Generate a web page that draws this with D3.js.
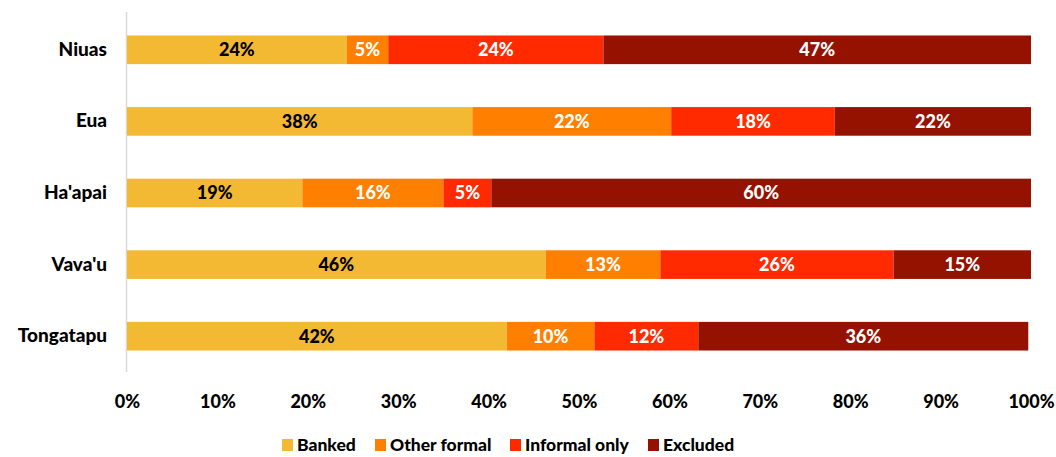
<!DOCTYPE html>
<html>
<head>
<meta charset="utf-8">
<script src="https://cdn.jsdelivr.net/npm/d3@7"></script>
<style>
  html, body { margin: 0; padding: 0; background: #fff; }
  svg { display: block; font-family: Lato, "Open Sans", sans-serif; font-weight: bold; }
</style>
</head>
<body>
<svg id="chart" width="1056" height="457"></svg>
<script>
// Access to financial services by island group (share of adults)
const islands = ["Niuas", "Eua", "Ha'apai", "Vava'u", "Tongatapu"];
const seriesNames = ["Banked", "Other formal", "Informal only", "Excluded"];
const banked       = [24.3, 38.2, 19.4, 46.3, 42.0];
const otherFormal  = [4.6, 22.0, 15.6, 12.7, 9.7];
const informalOnly = [23.8, 18.1, 5.3, 25.8, 11.5];
const excluded     = [47.3, 21.7, 59.7, 15.2, 36.5];
const valueLabels = [
  ["24%", "38%", "19%", "46%", "42%"],
  ["5%", "22%", "16%", "13%", "10%"],
  ["24%", "18%", "5%", "26%", "12%"],
  ["47%", "22%", "60%", "15%", "36%"]
];
const xTicks = [0, 10, 20, 30, 40, 50, 60, 70, 80, 90, 100];
const colors = ["#F4B932", "#FF7F00", "#FF2A00", "#951200"];
const labelColors = ["#000", "#fff", "#fff", "#fff"];

const rows = islands.map((name, i) => ({
  island: name,
  "Banked": banked[i],
  "Other formal": otherFormal[i],
  "Informal only": informalOnly[i],
  "Excluded": excluded[i]
}));

const svg = d3.select("#chart");
const margin = { top: 14, right: 25, bottom: 85, left: 127 };
const width = 1056 - margin.left - margin.right;
const height = 457 - margin.top - margin.bottom;

const g = svg.append("g").attr("transform", `translate(${margin.left},${margin.top})`);

const x = d3.scaleLinear().domain([0, 100]).range([0, width]);
const y = d3.scaleBand().domain(islands).range([0, height]).paddingInner(0.6).paddingOuter(0.3);

const stacked = d3.stack().keys(seriesNames)(rows);

// vertical category axis line
g.append("line")
  .attr("x1", -0.5).attr("x2", -0.5)
  .attr("y1", -2).attr("y2", height)
  .attr("stroke", "#d9d9d9").attr("stroke-width", 1.5);

const layers = g.selectAll("g.layer")
  .data(stacked)
  .join("g")
  .attr("class", "layer")
  .attr("fill", (d, i) => colors[i]);

layers.selectAll("rect")
  .data(d => d)
  .join("rect")
  .attr("x", d => x(d[0]))
  .attr("y", d => y(d.data.island))
  .attr("width", d => x(d[1]) - x(d[0]))
  .attr("height", y.bandwidth());

layers.each(function (layer, si) {
  d3.select(this).selectAll("text")
    .data(layer)
    .join("text")
    .attr("x", d => (x(d[0]) + x(d[1])) / 2)
    .attr("y", d => y(d.data.island) + y.bandwidth() / 2)
    .attr("dy", "0.36em")
    .attr("text-anchor", "middle")
    .attr("font-size", 18)
    .attr("font-weight", 900)
    .attr("fill", labelColors[si])
    .text((d, i) => valueLabels[si][i]);
});

// category labels
const yAxis = g.append("g").call(d3.axisLeft(y).tickSize(0).tickPadding(20));
yAxis.select(".domain").remove();
yAxis.selectAll("text")
  .attr("font-size", 19)
  .attr("font-family", "Lato, 'Open Sans', sans-serif")
  .attr("font-weight", 900)
  .attr("fill", "#000");

// percentage axis
const xAxis = g.append("g")
  .attr("transform", `translate(0,${height})`)
  .call(d3.axisBottom(x).tickValues(xTicks).tickFormat(d => d + "%").tickSize(0).tickPadding(23));
xAxis.select(".domain").remove();
xAxis.selectAll("text")
  .attr("font-size", 18)
  .attr("font-family", "Lato, 'Open Sans', sans-serif")
  .attr("font-weight", 900)
  .attr("fill", "#000");

// legend
const legendItems = [
  { name: seriesNames[0], x: 282 },
  { name: seriesNames[1], x: 375 },
  { name: seriesNames[2], x: 510 },
  { name: seriesNames[3], x: 648 }
];
const legend = svg.append("g").attr("transform", "translate(0,445)");
legendItems.forEach((it, i) => {
  legend.append("rect")
    .attr("x", it.x).attr("y", -6)
    .attr("width", 11).attr("height", 12)
    .attr("fill", colors[i]);
  legend.append("text")
    .attr("x", it.x + 15).attr("y", 0)
    .attr("dy", "0.36em")
    .attr("font-size", 17.5)
    .attr("font-weight", 900)
    .attr("fill", "#000")
    .text(it.name);
});
</script>
</body>
</html>
